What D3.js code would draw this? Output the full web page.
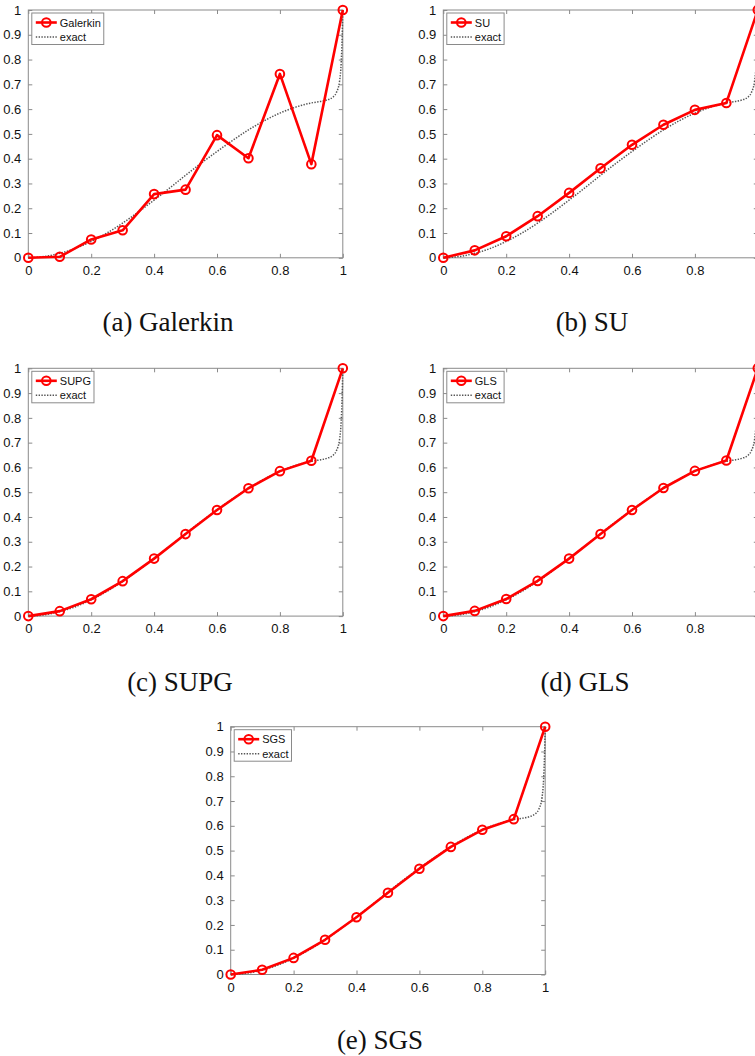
<!DOCTYPE html>
<html>
<head>
<meta charset="utf-8">
<script src="https://cdn.jsdelivr.net/npm/d3@7/dist/d3.min.js"></script>
<style>
  html, body { margin: 0; padding: 0; background: #fff; }
  svg { display: block; }
  .tick text { font-family: "Liberation Sans", Arial, sans-serif; font-size: 13px; fill: #111; }
  .caption { font-family: "Liberation Serif", "Times New Roman", serif; font-size: 27px; fill: #111; }
  .legend text { font-family: "Liberation Sans", Arial, sans-serif; font-size: 11px; fill: #111; }
</style>
</head>
<body>
<svg id="chart" width="755" height="1056"></svg>
<script>
// nodal values, x = 0, 0.1, ..., 1
const xNodes = [0, 0.1, 0.2, 0.3, 0.4, 0.5, 0.6, 0.7, 0.8, 0.9, 1];
const galerkin = [0, 0.004, 0.074, 0.111, 0.257, 0.275, 0.495, 0.402, 0.742, 0.378, 1];
const su = [0, 0.030, 0.087, 0.168, 0.262, 0.361, 0.456, 0.537, 0.597, 0.625, 1];
const supg = [0, 0.020, 0.068, 0.141, 0.232, 0.331, 0.428, 0.516, 0.585, 0.627, 1];
const gls = [0, 0.021, 0.069, 0.142, 0.232, 0.331, 0.428, 0.517, 0.586, 0.628, 1];
const sgs = [0, 0.019, 0.067, 0.140, 0.231, 0.330, 0.427, 0.515, 0.584, 0.627, 1];

// exact solution
const exactX = [0, 0.05, 0.1, 0.15, 0.2, 0.25, 0.3, 0.35, 0.4, 0.45, 0.5, 0.55, 0.6, 0.65, 0.7, 0.75, 0.8, 0.85, 0.9, 0.93, 0.95, 0.97, 0.98, 0.99, 0.995, 0.998, 1];
const exactY = [0, 0.005, 0.018, 0.038, 0.066, 0.100, 0.140, 0.185, 0.233, 0.282, 0.333, 0.382, 0.429, 0.474, 0.516, 0.553, 0.584, 0.608, 0.625, 0.631, 0.637, 0.650, 0.668, 0.715, 0.79, 0.89, 1];

const xTicks = [0, 0.2, 0.4, 0.6, 0.8, 1];
const yTicks = [0, 0.1, 0.2, 0.3, 0.4, 0.5, 0.6, 0.7, 0.8, 0.9, 1];

const panels = [
  { name: 'Galerkin', values: galerkin, caption: '(a) Galerkin', left: 28.3, top: 10, cx: 168, cy: 331 },
  { name: 'SU', values: su, caption: '(b) SU', left: 443.3, top: 10, cx: 592, cy: 331 },
  { name: 'SUPG', values: supg, caption: '(c) SUPG', left: 28.3, top: 368.3, cx: 180, cy: 691 },
  { name: 'GLS', values: gls, caption: '(d) GLS', left: 443.3, top: 368.3, cx: 585, cy: 691 },
  { name: 'SGS', values: sgs, caption: '(e) SGS', left: 230.7, top: 726.7, cx: 380, cy: 1049 },
];

const W = 314.5, H = 247.8;
const pageW = 755;
const svg = d3.select('#chart');

panels.forEach((p) => {
  const g = svg.append('g').attr('transform', `translate(${p.left},${p.top})`);
  const x = d3.scaleLinear().domain([0, 1]).range([0, W]);
  const y = d3.scaleLinear().domain([0, 1]).range([H, 0]);

  // box
  g.append('rect')
    .attr('width', W).attr('height', H)
    .attr('fill', 'none').attr('stroke', '#8a8a8a').attr('stroke-width', 1);

  const fmt = (d) => String(+d.toFixed(1));
  const styleAxis = (sel, showText) => {
    sel.select('.domain').remove();
    sel.selectAll('.tick line').attr('stroke', '#8a8a8a');
    if (!showText) sel.selectAll('.tick text').remove();
  };

  // labels falling past the page edge are off the figure in the original
  const visibleX = xTicks.filter((t) => p.left + x(t) + 4 < pageW);

  g.append('g').attr('transform', `translate(0,${H})`)
    .call(d3.axisBottom(x).tickValues(xTicks).tickFormat(fmt).tickSizeInner(-4).tickPadding(8))
    .call((s) => styleAxis(s, true))
    .call((s) => s.selectAll('.tick').filter((d) => !visibleX.includes(d)).select('text').remove());
  g.append('g')
    .call(d3.axisTop(x).tickValues(xTicks).tickSizeInner(-4))
    .call((s) => styleAxis(s, false));
  g.append('g')
    .call(d3.axisLeft(y).tickValues(yTicks).tickFormat(fmt).tickSizeInner(-4).tickPadding(7))
    .call((s) => styleAxis(s, true));
  g.append('g').attr('transform', `translate(${W},0)`)
    .call(d3.axisRight(y).tickValues(yTicks).tickSizeInner(-4))
    .call((s) => styleAxis(s, false));
  g.selectAll('.tick text').attr('fill', '#111');

  // exact
  const exactLine = d3.line().x((d, i) => x(exactX[i])).y((d) => y(d)).curve(d3.curveMonotoneX);
  g.append('path')
    .datum(exactY)
    .attr('d', exactLine)
    .attr('fill', 'none').attr('stroke', '#555').attr('stroke-width', 1.5)
    .attr('stroke-dasharray', '1.4 1.4');

  // numerical solution
  const numLine = d3.line().x((d, i) => x(xNodes[i])).y((d) => y(d));
  g.append('path')
    .datum(p.values)
    .attr('d', numLine)
    .attr('fill', 'none').attr('stroke', '#ff0000').attr('stroke-width', 2.6)
    .attr('stroke-linejoin', 'round');
  g.selectAll('circle.pt')
    .data(p.values)
    .join('circle')
    .attr('class', 'pt')
    .attr('cx', (d, i) => x(xNodes[i]))
    .attr('cy', (d) => y(d))
    .attr('r', 4.3)
    .attr('fill', 'none').attr('stroke', '#ff0000').attr('stroke-width', 2);

  // legend
  const lg = g.append('g').attr('class', 'legend').attr('transform', 'translate(3.5,3)');
  const box = lg.append('rect').attr('height', 31.5).attr('fill', '#fff').attr('stroke', '#8a8a8a');
  lg.append('line').attr('x1', 4).attr('x2', 25).attr('y1', 9.5).attr('y2', 9.5)
    .attr('stroke', '#ff0000').attr('stroke-width', 2.6);
  lg.append('circle').attr('cx', 14.5).attr('cy', 9.5).attr('r', 4.3)
    .attr('fill', 'none').attr('stroke', '#ff0000').attr('stroke-width', 2);
  lg.append('line').attr('x1', 4).attr('x2', 25).attr('y1', 24).attr('y2', 24)
    .attr('stroke', '#555').attr('stroke-width', 1.5).attr('stroke-dasharray', '1.4 1.4');
  const t1 = lg.append('text').attr('x', 28).attr('y', 13.5).text(p.name);
  const t2 = lg.append('text').attr('x', 28).attr('y', 28).text('exact');
  const tw = Math.max(t1.node().getComputedTextLength(), t2.node().getComputedTextLength());
  box.attr('width', 28 + tw + 3);

  svg.append('text').attr('class', 'caption')
    .attr('x', p.cx).attr('y', p.cy).attr('text-anchor', 'middle')
    .text(p.caption);
});
</script>
</body>
</html>
